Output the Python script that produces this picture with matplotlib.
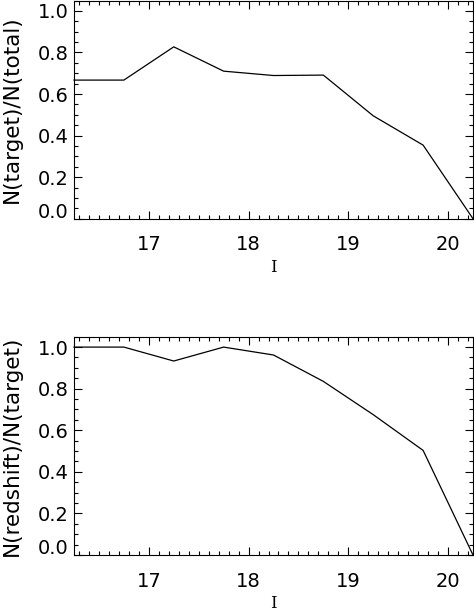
import numpy as np
import matplotlib
matplotlib.use("Agg")
import matplotlib.pyplot as plt
from matplotlib.ticker import MultipleLocator

# bin centres in I magnitude
mag = [16.25, 16.75, 17.25, 17.75, 18.25, 18.75, 19.25, 19.75, 20.25]
frac_target = [0.667, 0.667, 0.827, 0.710, 0.689, 0.691, 0.495, 0.354, 0.0]
frac_redshift = [1.0, 1.0, 0.933, 1.0, 0.962, 0.835, 0.675, 0.503, 0.0]

ylabels = ['N(target)/N(total)', 'N(redshift)/N(target)']
series = [frac_target, frac_redshift]

W, H = 474, 611
fig = plt.figure(figsize=(W / 100, H / 100), dpi=100)
plt.rcParams['font.family'] = 'DejaVu Sans'

# axes boxes in pixels: left, top, right, bottom
boxes = [(74, 0.5, 473, 218.7), (74, 336.7, 473, 555)]


def fmt(v, p):
    # 0.0 is drawn separately, nudged up off the bottom axis
    return '' if abs(v) < 1e-9 else '%.1f' % v


for (l, t, r, b), yvals, ylab in zip(boxes, series, ylabels):
    ax = fig.add_axes([l / W, 1 - b / H, (r - l) / W, (b - t) / H])
    ax.plot(mag, yvals, color='black', lw=0.9, clip_on=False)
    ax.set_xlim(16.25, 20.25)
    ax.set_ylim(0, 1.05)
    ax.xaxis.set_major_locator(MultipleLocator(1))
    ax.xaxis.set_minor_locator(MultipleLocator(0.1))
    ax.yaxis.set_major_locator(MultipleLocator(0.2))
    ax.yaxis.set_minor_locator(MultipleLocator(0.05))
    ax.yaxis.set_major_formatter(plt.FuncFormatter(fmt))
    ax.tick_params(which='both', direction='in', top=True, right=True,
                   width=0.8, colors='black', labelsize=14)
    ax.tick_params(which='major', length=5.5)
    ax.tick_params(which='minor', length=3)
    ax.tick_params(axis='x', pad=12)
    ax.tick_params(axis='y', pad=4)
    for s in ax.spines.values():
        s.set_linewidth(0.8)
    ax.annotate('0.0', xy=(0, 0), xycoords=('axes fraction', 'data'),
                xytext=(-4, 4.5), textcoords='offset points',
                ha='right', va='center', fontsize=14)
    ax.text(-(l - 12) / (r - l), 0.5, ylab, transform=ax.transAxes,
            rotation=90, ha='center', va='center', fontsize=15.5)
    ax.set_xlabel('I', family='DejaVu Serif', fontsize=12)
    ax.xaxis.set_label_coords(0.5, -0.185)

fig.savefig('out.png', dpi=100)
